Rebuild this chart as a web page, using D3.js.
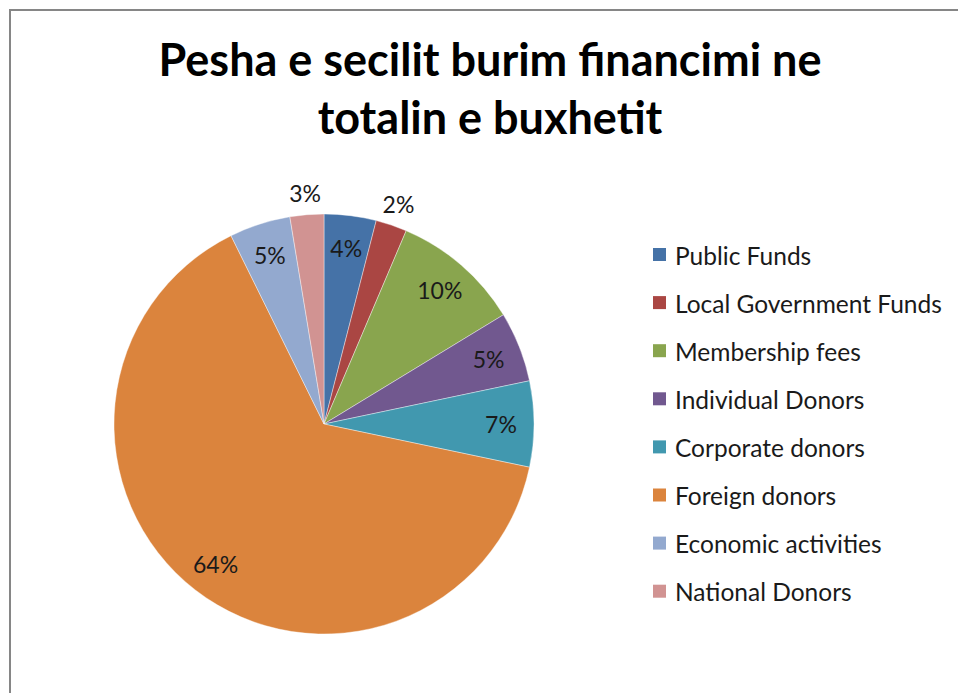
<!DOCTYPE html>
<html>
<head>
<meta charset="utf-8">
<script src="https://cdn.jsdelivr.net/npm/d3@7"></script>
<style>
  html, body { margin: 0; padding: 0; background: #fff; }
  svg { display: block; }
</style>
</head>
<body>
<svg id="chart" width="958" height="693"></svg>
<script>
// ---- data ----
const categories = ["Public Funds", "Local Government Funds", "Membership fees", "Individual Donors",
                    "Corporate donors", "Foreign donors", "Economic activities", "National Donors"];
const values = [4.0, 2.4, 9.9, 5.4, 6.6, 64.4, 4.7, 2.6];
const valueLabels = ["4%", "2%", "10%", "5%", "7%", "64%", "5%", "3%"];
const outsideLabel = [false, true, false, false, false, false, false, true];
const colors = ["#4572A7", "#AA4643", "#89A54E", "#71588F", "#4198AF", "#DB843D", "#93A9CF", "#D19392"];
const titleLines = ["Pesha e secilit burim financimi ne", "totalin e buxhetit"];

// ---- layout ----
const svg = d3.select("#chart");
const W = 958, H = 693;
const font = "Lato, 'Open Sans', sans-serif";

// frame
svg.append("rect")
  .attr("x", 10).attr("y", 10).attr("width", W + 20).attr("height", H + 20)
  .attr("fill", "#fff").attr("stroke", "#868686").attr("stroke-width", 2);

// title
svg.append("g").selectAll("text").data(titleLines).join("text")
  .attr("x", 490).attr("y", (d, i) => 76 + i * 58)
  .attr("text-anchor", "middle")
  .attr("font-family", font).attr("font-weight", "bold").attr("font-size", 45)
  .attr("fill", "#000")
  .text(d => d);

// pie
const cx = 324, cy = 424, R = 210;
const pie = d3.pie().sort(null).value(d => d)(values);
const arc = d3.arc().innerRadius(0).outerRadius(R);
const g = svg.append("g").attr("transform", `translate(${cx},${cy})`);
g.selectAll("path").data(pie).join("path")
  .attr("d", arc)
  .attr("fill", (d, i) => colors[i])
  .attr("stroke", "#fff").attr("stroke-width", 0.4);

const inArc = d3.arc().innerRadius(177).outerRadius(177);
const outArc = d3.arc().innerRadius(232).outerRadius(232);
g.selectAll("text").data(pie).join("text")
  .attr("transform", (d, i) => `translate(${(outsideLabel[i] ? outArc : inArc).centroid(d)})`)
  .attr("text-anchor", "middle").attr("dominant-baseline", "central")
  .attr("font-family", font).attr("font-size", 23).attr("fill", "#1a1a1a")
  .text((d, i) => valueLabels[i]);

// legend
const legend = svg.append("g").attr("transform", "translate(653,255)");
const item = legend.selectAll("g").data(categories).join("g")
  .attr("transform", (d, i) => `translate(0,${i * 48.1})`);
item.append("rect").attr("x", 0).attr("y", -7).attr("width", 13).attr("height", 13)
  .attr("fill", (d, i) => colors[i]);
item.append("text").attr("x", 22).attr("y", 0)
  .attr("dominant-baseline", "central")
  .attr("font-family", font).attr("font-size", 24.5).attr("fill", "#1a1a1a")
  .text(d => d);
</script>
</body>
</html>
